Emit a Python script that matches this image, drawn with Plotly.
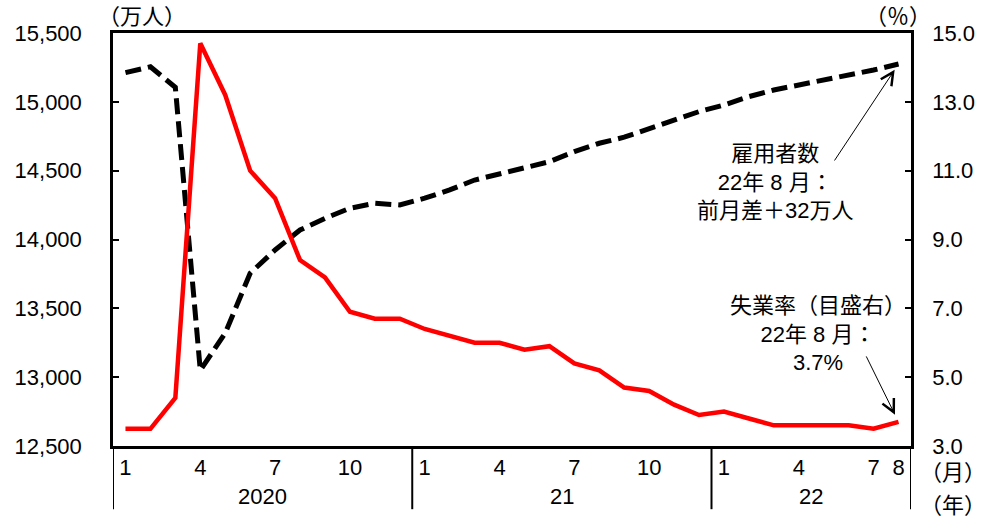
import plotly.graph_objects as go

# ---- data ----
month_index = list(range(32))  # Jan 2020 .. Aug 2022
employment = [15212, 15255, 15105, 13050, 13320, 13755, 13924, 14069, 14154, 14227, 14263, 14251,
              14300, 14360, 14432, 14476, 14517, 14565, 14638, 14699, 14743, 14808, 14868, 14929,
              14977, 15038, 15086, 15122, 15159, 15188, 15231, 15275]
unemployment = [3.5, 3.5, 4.4, 14.7, 13.2, 11.0, 10.2, 8.4, 7.9, 6.9, 6.7, 6.7,
                6.4, 6.2, 6.0, 6.0, 5.8, 5.9, 5.4, 5.2, 4.7, 4.6, 4.2, 3.9,
                4.0, 3.8, 3.6, 3.6, 3.6, 3.6, 3.5, 3.7]
month_tickvals = [0, 3, 6, 9, 12, 15, 18, 21, 24, 27, 30, 31]
month_ticktext = ["1", "4", "7", "10", "1", "4", "7", "10", "1", "4", "7", "8"]
year_labels = ["2020", "21", "22"]
year_centers = [5.5, 17.5, 27.5]
year_bounds = [-0.5, 11.5, 23.5, 31.5]
left_ticks = [12500, 13000, 13500, 14000, 14500, 15000, 15500]
right_ticks = [3, 5, 7, 9, 11, 13, 15]

FONT = "Liberation Sans, Arial, Noto Sans CJK JP"
FS = 22

fig = go.Figure()
fig.add_trace(go.Scatter(x=month_index, y=employment, mode="lines",
                         line=dict(color="black", width=5, dash="16px,7px"),
                         yaxis="y", showlegend=False))
fig.add_trace(go.Scatter(x=month_index, y=unemployment, mode="lines",
                         line=dict(color="#ff0000", width=4.5),
                         yaxis="y2", showlegend=False))

fig.update_layout(
    width=986, height=523,
    margin=dict(l=113, r=75, t=33, b=77, autoexpand=False),
    paper_bgcolor="white", plot_bgcolor="white",
    font=dict(family=FONT, size=FS, color="black"),
    showlegend=False,
    xaxis=dict(range=[-0.5, 31.5], tickmode="array", tickvals=month_tickvals,
               ticktext=month_ticktext, showgrid=False, zeroline=False,
               showline=True, mirror=True, linecolor="black", linewidth=2.5,
               ticks="", tickfont=dict(size=FS)),
    yaxis=dict(range=[12500, 15500], tickmode="array", tickvals=left_ticks,
               tickformat=",", showgrid=False, zeroline=False,
               showline=True, linecolor="black", linewidth=2.5,
               ticks="inside", ticklen=6, tickwidth=2, tickcolor="black",
               ticklabelstandoff=24, automargin=False),
    yaxis2=dict(range=[3, 15], tickmode="array", tickvals=right_ticks,
                tickformat=".1f", overlaying="y", side="right",
                showgrid=False, zeroline=False,
                showline=True, linecolor="black", linewidth=2.5,
                ticks="inside", ticklen=6, tickwidth=2, tickcolor="black",
                ticklabelstandoff=14, automargin=False),
)

# year separators
for xb in year_bounds:
    fig.add_shape(type="line", xref="x", yref="paper", x0=xb, x1=xb, y0=0, y1=-0.153,
                  line=dict(color="black", width=2))
# year labels
for lab, xc in zip(year_labels, year_centers):
    fig.add_annotation(x=xc, xref="x", y=-0.123, yref="paper", text=lab,
                       showarrow=False, font=dict(size=FS), yanchor="middle")

# axis unit labels
fig.add_annotation(x=0.036, y=1.04, xref="paper", yref="paper", text="（万人）",
                   showarrow=False, yanchor="middle", xanchor="center")
fig.add_annotation(x=0.984, y=1.04, xref="paper", yref="paper", text="（％）",
                   showarrow=False, yanchor="middle", xanchor="center")
fig.add_annotation(x=1.0525, y=-0.063, xref="paper", yref="paper", text="（月）",
                   showarrow=False, yanchor="middle", xanchor="center")
fig.add_annotation(x=1.0525, y=-0.143, xref="paper", yref="paper", text="（年）",
                   showarrow=False, yanchor="middle", xanchor="center")

# callouts
fig.add_annotation(x=26.05, y=14420, xref="x", yref="y",
                   text="雇用者数<br>22年 8 月：<br>前月差＋32万人",
                   showarrow=False, align="center", xanchor="center", yanchor="middle")
fig.add_annotation(x=27.76, y=6.25, xref="x", yref="y2",
                   text="失業率（目盛右）<br>22年 8 月：<br>3.7%",
                   showarrow=False, align="center", xanchor="center", yanchor="middle")

# arrows
fig.add_annotation(x=month_index[-1], y=employment[-1], xref="x", yref="y", text="",
                   showarrow=True, arrowhead=5, arrowsize=2.5, arrowwidth=1,
                   arrowcolor="black", ax=-65, ay=98, standoff=7)
fig.add_annotation(x=month_index[-1], y=unemployment[-1], xref="x", yref="y2", text="",
                   showarrow=True, arrowhead=5, arrowsize=2.5, arrowwidth=1,
                   arrowcolor="black", ax=-33, ay=-67, standoff=8)

# remove the browser's default 8px body margin so the figure fills the window
fig.write_html("out.html", config={"displayModeBar": False},
               post_script="document.body.style.margin='0';")
